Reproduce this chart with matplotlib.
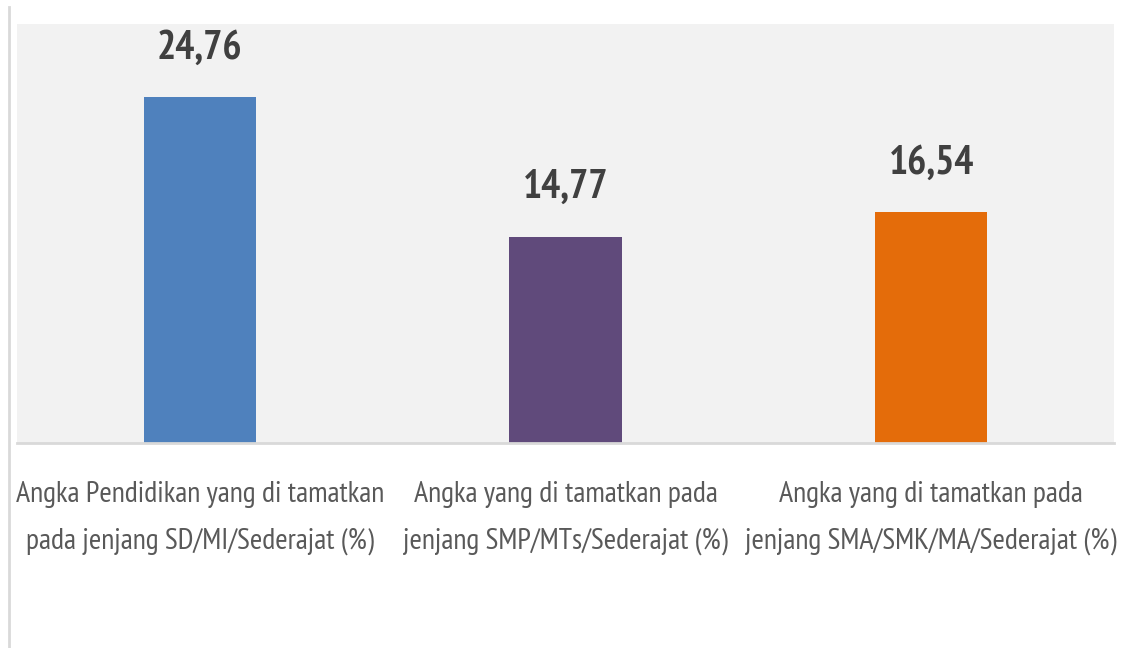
import matplotlib.pyplot as plt
from matplotlib.lines import Line2D

categories = [
    "Angka Pendidikan yang di tamatkan\npada jenjang SD/MI/Sederajat (%)",
    "Angka yang di tamatkan pada\njenjang SMP/MTs/Sederajat (%)",
    "Angka yang di tamatkan pada\njenjang SMA/SMK/MA/Sederajat (%)",
]
values = [24.76, 14.77, 16.54]
value_labels = ["24,76", "14,77", "16,54"]
colors = ["#4f81bd", "#604a7b", "#e46c0a"]

plt.rcParams["font.family"] = ["PT Sans Narrow", "DejaVu Sans"]

fig = plt.figure(figsize=(11.23, 6.48), dpi=100)
ax = fig.add_axes([17 / 1123, 205 / 648, 1097 / 1123, 419 / 648])
ax.set_facecolor("#f2f2f2")

x = list(range(len(values)))
ax.bar(x, values, width=0.307, color=colors, zorder=2)

for xi, v, lab in zip(x, values, value_labels):
    ax.annotate(lab, (xi, v), xytext=(0, 22), textcoords="offset points",
                ha="center", va="bottom", fontsize=29, fontweight="bold",
                color="#404040")

ax.set_xlim(-0.5, 2.5)
ax.set_ylim(0, 30)
ax.set_yticks([])
ax.set_xticks(x)
ax.set_xticklabels(categories, fontsize=21.5, color="#595959", linespacing=1.95)
ax.tick_params(axis="x", length=0, pad=27)
for s in ["top", "left", "right"]:
    ax.spines[s].set_visible(False)
ax.spines["bottom"].set_color("#d9d9d9")
ax.spines["bottom"].set_linewidth(2)

# thin border on the left of the picture
fig.add_artist(Line2D([9 / 1123, 9 / 1123], [0, 641 / 648], color="#d9d9d9", lw=2))

plt.savefig("out.png", dpi=100)
